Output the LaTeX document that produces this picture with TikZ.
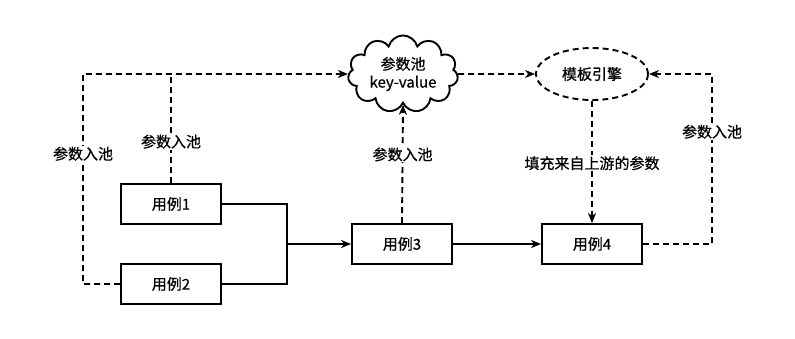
\documentclass[tikz,border=0pt]{standalone}
\usepackage{fontspec}
\setmainfont{Noto Sans CJK SC}[FakeBold=0.6]
\usetikzlibrary{arrows.meta, shapes.geometric, shapes.symbols}

\begin{document}
\begin{tikzpicture}[x=1pt, y=-1pt, font=\fontsize{15}{18}\selectfont,
		casebox/.style={draw, line width=1.9pt, minimum width=100pt, minimum height=40pt, inner sep=0pt},
		link/.style={line width=1.9pt},
		flow/.style={link, -{Stealth[length=10pt, width=8pt, inset=3pt]}},
		poolflow/.style={flow, dash pattern=on 6pt off 4pt},
		tag/.style={fill=white, inner sep=1pt}]
		\useasboundingbox (0,0) rectangle (795,338);

		\node [casebox] (case1) at (171,204) {用例1};
		\node [casebox] (case2) at (171,284) {用例2};
		\node [casebox] (case3) at (402,244) {用例3};
		\node [casebox] (case4) at (592,244) {用例4};

		\node [cloud, draw, link, cloud puffs=11, aspect=1.6, minimum width=110pt, minimum height=70pt, inner sep=0pt, align=center] (pool) at (403,74) {参数池\\key-value};
		\node [ellipse, draw, link, dash pattern=on 6pt off 4pt, minimum width=112pt, minimum height=52pt] (engine) at (592,74) {模板引擎};

		\coordinate (west) at (83,74);
		\coordinate (merge) at (287,244);
		\coordinate (east) at (712,74);

		\draw [poolflow] (case2.west) -| node[tag, pos=0.81] {参数入池} (west) -- (pool.west);
		\draw [link] [dash pattern=on 6pt off 4pt] (case1.north) -- node[tag, pos=0.38] {参数入池} (case1.north |- west);

		\draw [link] (case1.east) -| (merge);
		\draw [link] (case2.east) -| (merge);
		\draw [flow] (merge) -- (case3.west);
		\draw [flow] (case3.east) -- (case4.west);

		\draw [poolflow] (case3.north) -- node[tag, pos=0.58] {参数入池} (pool.south);
		\draw [poolflow] (pool.east) -- (engine.west);
		\draw [poolflow] (engine.south) -- node[tag, pos=0.51] {填充来自上游的参数} (case4.north);
		\draw [poolflow] (case4.east) -| node[tag, pos=0.83] {参数入池} (east) -- (engine.east);
	\end{tikzpicture}
\end{document}
